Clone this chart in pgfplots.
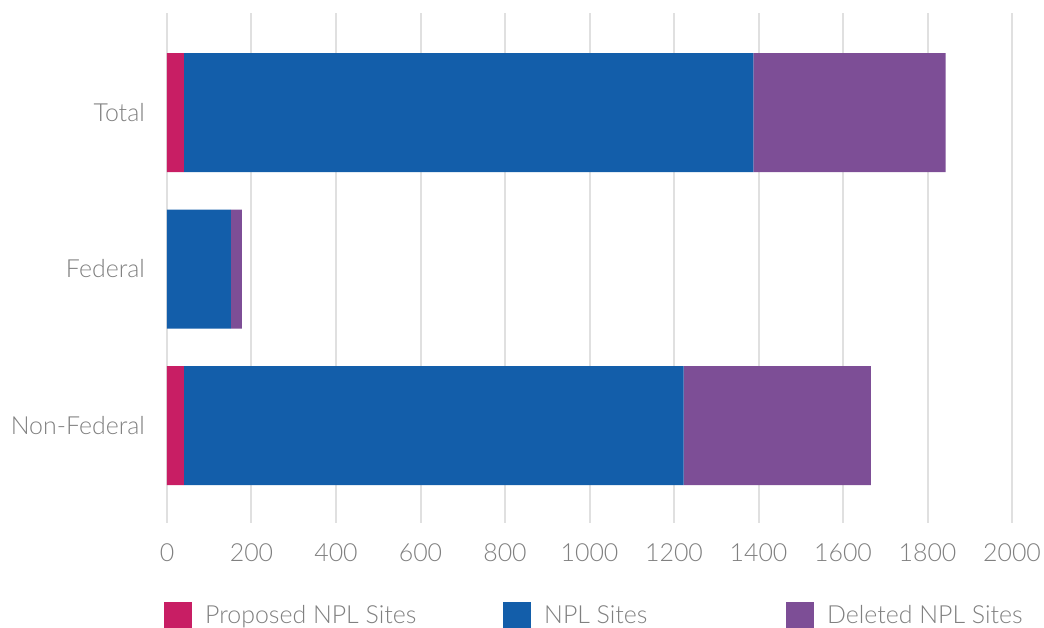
\documentclass[border=0pt]{standalone}
\usepackage{fontspec}
\setmainfont{Lato}[UprightFont={* Light}]
\usepackage{pgfplots}
\pgfplotsset{compat=1.18}
\definecolor{cpink}{RGB}{200,30,100}
\definecolor{cblue}{RGB}{19,94,170}
\definecolor{cpurple}{RGB}{125,78,150}
\definecolor{cgrid}{RGB}{224,224,224}
\definecolor{ctext}{RGB}{128,128,128}
\begin{document}
\begin{tikzpicture}
\path[use as bounding box] (-167bp,-105bp) rectangle (877bp,523bp);
\begin{axis}[
  at={(0,0)}, anchor=south west,
  scale only axis, width=845bp, height=510bp,
  xbar stacked, bar width=119bp,
  xmin=0, xmax=2000, ymin=-0.623, ymax=2.636,
  xtick={0,200,...,2000},
  ytick={0,1,2}, yticklabels={Non-Federal,Federal,Total},
  /pgf/number format/assume math mode=true,
  /pgf/number format/1000 sep={},
  xmajorgrids, ymajorgrids=false,
  grid style={color=cgrid, line width=2bp},
  axis line style={draw=none},
  major tick length=0pt,
  tick label style={font=\fontsize{25}{30}\selectfont, text=ctext, inner sep=0pt},
  xticklabel style={anchor=north, yshift=-20bp},
  yticklabel style={anchor=east, xshift=-22bp},
  legend style={at={([xshift=-3bp,yshift=-79bp]axis description cs:0,0)}, anchor=north west,
    draw=none, inner sep=0pt, font=\fontsize{25}{30}\selectfont, text=ctext,
    nodes={inner sep=0pt}, column sep=0pt,
    /tikz/every odd column/.append style={column sep=13bp}},
  legend columns=3,
  legend cell align=left,
  legend image code/.code={\fill[#1] (0bp,-13bp) rectangle (28bp,13bp);},
]
\addplot[fill=cpink, draw=none] coordinates {(40,0) (0,1) (40,2)};
\addplot[fill=cblue, draw=none] coordinates {(1183,0) (151,1) (1348,2)};
\addplot[fill=cpurple, draw=none] coordinates {(443,0) (26,1) (455,2)};
\addlegendentry{\makebox[298bp][l]{Proposed NPL Sites}}
\addlegendentry{\makebox[242bp][l]{NPL Sites}}
\addlegendentry{Deleted NPL Sites}
\end{axis}
\end{tikzpicture}
\end{document}
